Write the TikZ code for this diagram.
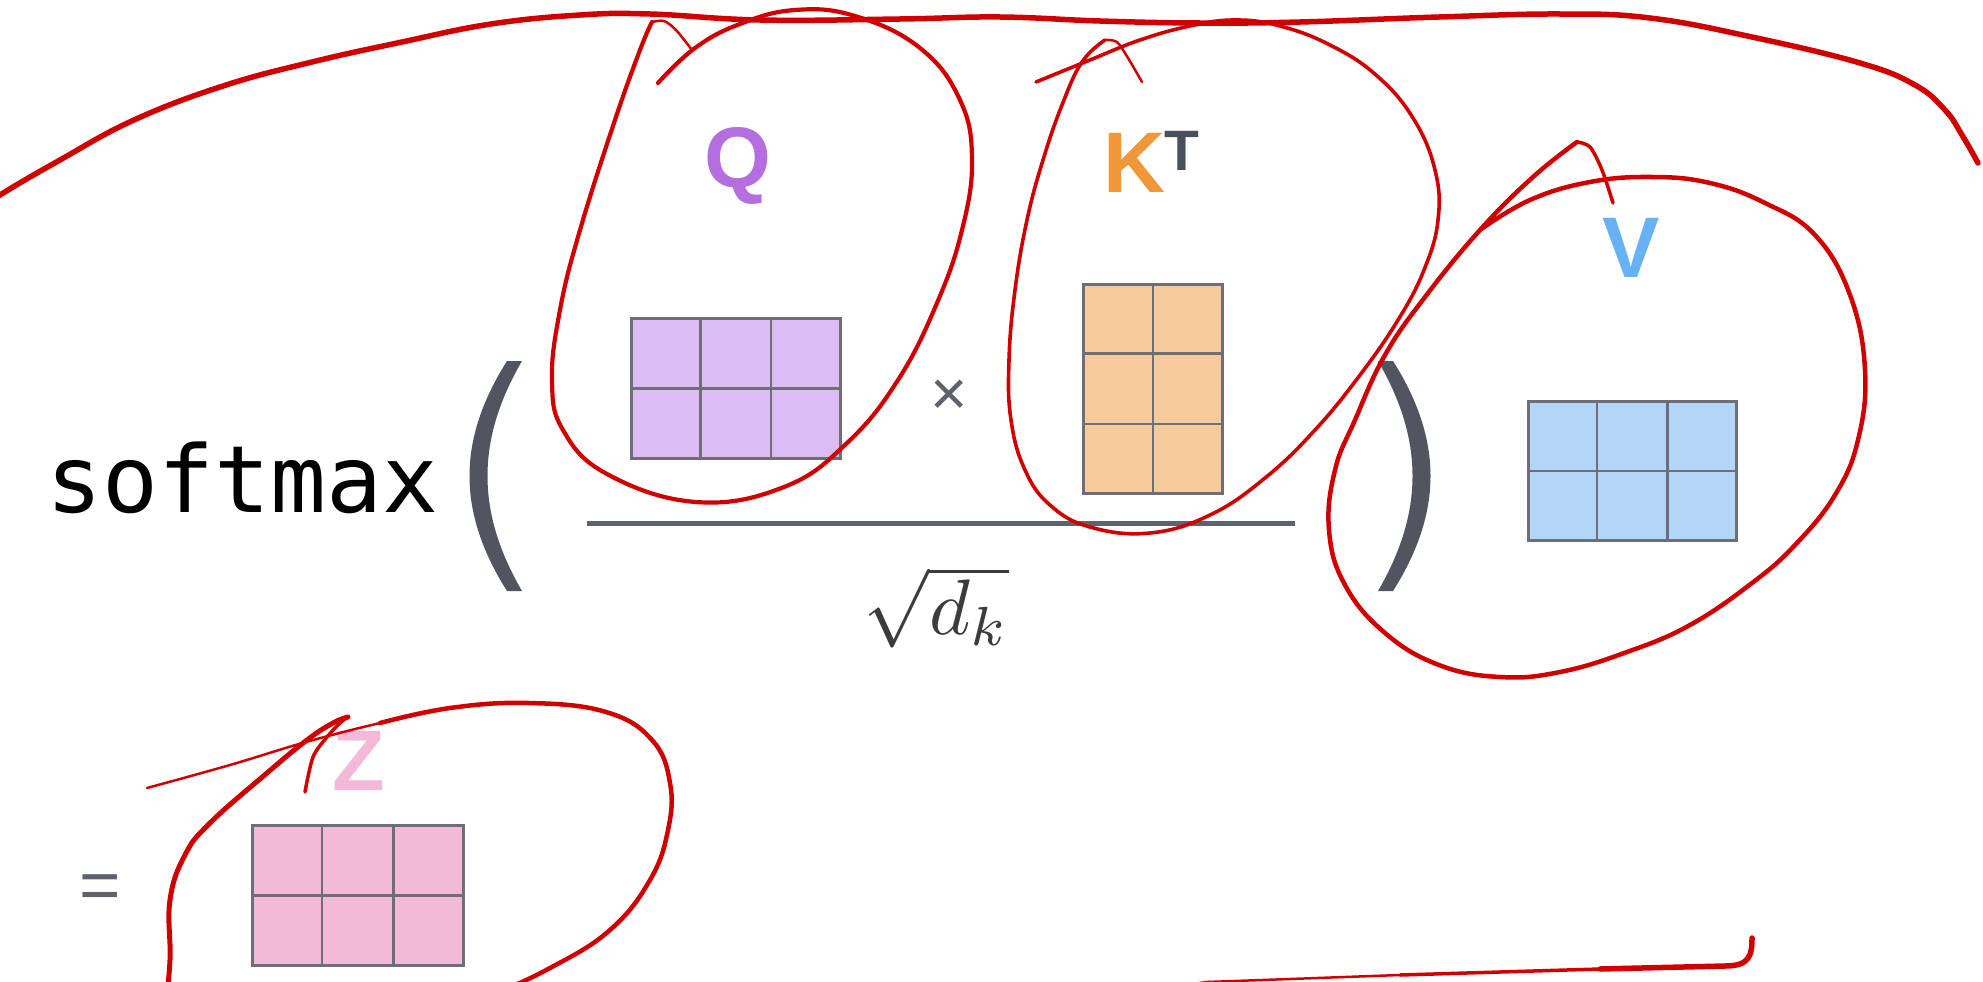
\documentclass[tikz,border=0pt]{standalone}
\usepackage{fontspec}
\usetikzlibrary{calc}
\newfontfamily\lblfont{Liberation Sans}
\newfontfamily\monofnt{DejaVu Sans Mono}
\definecolor{Qc}{HTML}{B46EE0}
\definecolor{Qf}{HTML}{DBBDF3}
\definecolor{Kc}{HTML}{F0973A}
\definecolor{Kf}{HTML}{F7CA9B}
\definecolor{Vc}{HTML}{66B2F5}
\definecolor{Vf}{HTML}{B4D6F6}
\definecolor{Zc}{HTML}{F4B8D8}
\definecolor{Zf}{HTML}{F3BAD8}
\definecolor{Tc}{HTML}{4A505B}
\definecolor{gridc}{HTML}{6E6E78}
\definecolor{parc}{HTML}{50555F}
\definecolor{opc}{HTML}{5D626C}
\definecolor{mathc}{HTML}{3C3C3C}
\definecolor{inkred}{HTML}{D10000}
\newcommand\mxgrid[3]{%
  \foreach \fr in {#2}{\draw[gridline] ($(#1.north west)!\fr!(#1.north east)$) -- ($(#1.south west)!\fr!(#1.south east)$);}%
  \foreach \fr in {#3}{\draw[gridline] ($(#1.north west)!\fr!(#1.south west)$) -- ($(#1.north east)!\fr!(#1.south east)$);}%
}
\begin{document}
\begin{tikzpicture}[x=1bp,y=-1bp,
  lbl/.style={inner sep=0, font=\lblfont\bfseries\fontsize{86bp}{90bp}\selectfont},
  mat/.style={draw=gridc, line width=2.5bp, inner sep=0, anchor=north west},
  gridline/.style={draw=gridc, line width=2.5bp},
  paren/.style={fill=parc, draw=none},
  fracline/.style={draw=opc, line width=5bp},
  ink/.style={draw=inkred, line width=4.5bp, line cap=round, line join=round},
  thinink/.style={ink, line width=2.5bp}]
\useasboundingbox (0,0) rectangle (1983,982);
\clip (0,0) rectangle (1983,982);
\fill[white] (0,0) rectangle (1983,982);

% softmax
\node[anchor=base west, inner sep=0, font=\monofnt\fontsize{93bp}{100bp}\selectfont] (sm) at (46,512) {softmax};

% parentheses
\path[paren] (507,361) .. controls (457,440) and (457,512) .. (507,591) -- (522,591)
   .. controls (476,512) and (476,440) .. (522,361) -- cycle;
\path[paren] (1378,361) .. controls (1424,440) and (1424,512) .. (1378,591) -- (1393,591)
   .. controls (1443,512) and (1443,440) .. (1393,361) -- cycle;

% Q
\node[lbl, text=Qc, anchor=base] (Q) at (738,187) {Q};
\node[mat, fill=Qf, minimum width=209bp, minimum height=140bp] (Qm) at (630,317) {};
\mxgrid{Qm}{1/3,2/3}{1/2}

% times
\node[inner sep=0, anchor=base, text=opc, font=\lblfont\fontsize{64bp}{70bp}\selectfont] (times) at (949,415) {×};

% K^T
\node[lbl, text=Kc, anchor=base] (K) at (1135,192) {K};
\node[inner sep=0, anchor=base, text=Tc, font=\lblfont\bfseries\fontsize{57bp}{60bp}\selectfont] (T) at (1182,170) {T};
\node[mat, fill=Kf, minimum width=139bp, minimum height=209bp] (Km) at (1082,283) {};
\mxgrid{Km}{1/2}{1/3,2/3}

% fraction
\coordinate (fl) at (587,523);
\coordinate (fr) at (1295,523);
\draw[fracline] (fl) -- (fr);
\node[anchor=base west, inner sep=0, text=mathc, scale=7.9] (sq) at (862,634) {$\sqrt{d_k}$};

% V
\node[lbl, text=Vc, anchor=base] (V) at (1631,277) {V};
\node[mat, fill=Vf, minimum width=208bp, minimum height=139bp] (Vm) at (1527,400) {};
\mxgrid{Vm}{1/3,2/3}{1/2}

% = Z
\node[inner sep=0, anchor=base, text=opc, font=\lblfont\fontsize{71bp}{75bp}\selectfont] (eq) at (100,909) {=};
\node[lbl, text=Zc, anchor=base] (Z) at (359,790) {Z};
\node[mat, fill=Zf, minimum width=211bp, minimum height=140bp] (Zm) at (251,824) {};
\mxgrid{Zm}{1/3,2/3}{1/2}

% ---- red annotations ----
% big outer curve
\draw[ink, line width=5.5bp] plot[smooth, tension=0.7] coordinates {(-20,210) (0,195) (60,160) (134,120) (223,86) (312,62) (402,42) (491,24) (580,15) (650,14) (760,20) (900,19) (1000,17) (1100,21) (1200,23) (1300,22) (1439,17) (1560,14) (1650,18) (1752,37) (1860,63) (1915,85) (1945,110) (1962,135) (1978,163)};

% Q loop
\draw[ink, line width=4.2bp] plot[smooth, tension=0.7] coordinates {(658,83) (695,48) (740,24) (795,10) (855,16) (920,48) (960,100) (972,160) (962,230) (937,303) (898,380) (847,443) (784,487) (696,502) (607,474) (563,430) (552,380) (560,310) (580,230) (615,120) (640,50) (652,22)};
\draw[thinink] plot[smooth, tension=0.5] coordinates {(652,22) (664,21) (676,30) (692,50)};

% K loop
\draw[ink, line width=3.6bp] plot[smooth, tension=0.7] coordinates {(1036,82) (1090,60) (1140,40) (1190,26) (1235,20) (1280,26) (1330,45) (1376,75) (1413,118) (1435,170) (1438,220) (1424,270) (1398,320) (1360,375) (1315,430) (1265,478) (1210,515) (1150,533) (1090,527) (1050,505) (1025,470) (1011,420) (1009,360) (1015,290) (1027,220) (1043,160) (1062,105) (1082,62) (1105,40)};
\draw[thinink] plot[smooth, tension=0.5] coordinates {(1105,40) (1117,42) (1128,58) (1142,82)};

% V loop
\draw[ink, line width=4.5bp] plot[smooth, tension=0.7] coordinates {(1480,230) (1530,200) (1590,182) (1652,177) (1710,183) (1765,203) (1815,235) (1850,295) (1865,370) (1858,440) (1835,495) (1795,545) (1752,583) (1690,625) (1627,652) (1560,672) (1500,677) (1439,665) (1385,633) (1345,585) (1329,530) (1335,470) (1355,420) (1385,355) (1425,297) (1480,230) (1533,177) (1577,142)};
\draw[ink, line width=3.5bp] plot[smooth, tension=0.5] coordinates {(1577,142) (1590,147) (1602,170) (1613,203)};

% Z loop
\draw[thinink] plot[smooth, tension=0.6] coordinates {(147,788) (230,765) (306,742) (380,723) (450,708)};
\draw[ink] plot[smooth, tension=0.7] coordinates {(380,723) (450,708) (529,703) (606,712) (652,740) (670,783) (668,830) (650,880) (610,930) (550,968) (490,995) (440,1010)};
\draw[ink, line width=5bp] plot[smooth, tension=0.7] coordinates {(165,1010) (170,960) (170,900) (185,855) (210,823) (267,773) (307,740) (333,723) (348,717)};
\draw[ink, line width=3.5bp] plot[smooth, tension=0.5] coordinates {(348,717) (340,723) (327,737) (313,757) (305,792)};

% bottom stroke
\draw[ink, line width=2.5bp] (1150,990) -- (1207,982) -- (1400,975);
\draw[ink, line width=3.5bp] (1400,975) -- (1600,969);
\draw[ink, line width=5.5bp] (1600,969) -- (1725,966) .. controls (1750,966) and (1752,955) .. (1752,938);
\end{tikzpicture}
\end{document}
